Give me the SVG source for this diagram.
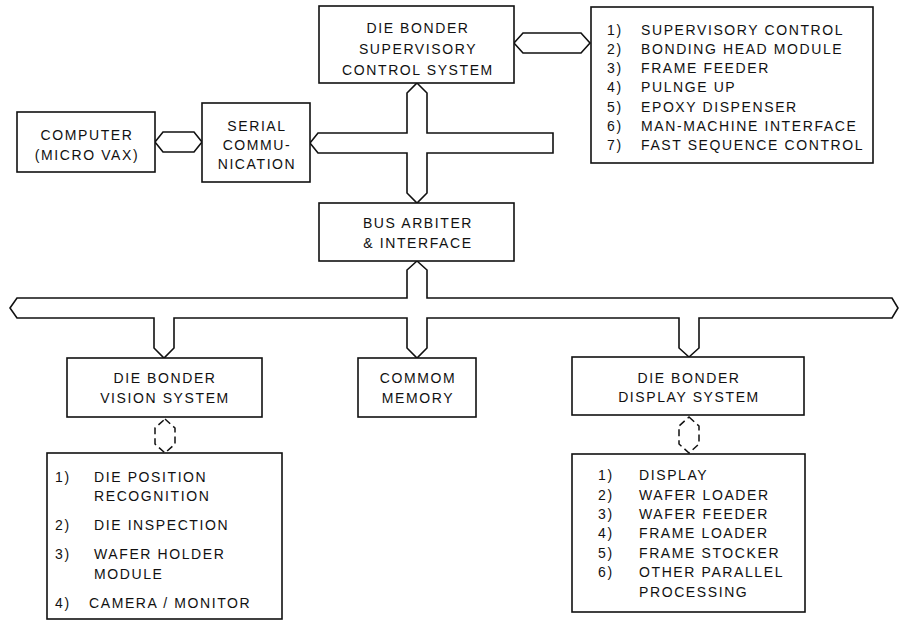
<svg xmlns="http://www.w3.org/2000/svg" width="900" height="621" viewBox="0 0 900 621">
<style>
.box{fill:#fff;stroke:#111;stroke-width:1.6}
.bus{fill:#fff;stroke:#111;stroke-width:1.6;stroke-linejoin:miter}
.dash{fill:none;stroke:#111;stroke-width:1.5;stroke-dasharray:7 4}
text{font-family:"Liberation Sans",Arial,sans-serif;font-size:14px;letter-spacing:1.6px;fill:#111}
.c{text-anchor:middle}
</style>
<rect width="900" height="621" fill="#fff"/>
<g id="connectors">
<path class="bus" d="M155,142 L163,132 L194,132 L202,142 L194,152 L163,152 Z"/>
<path class="bus" d="M514,43 L523,33 L581,33 L590,43 L581,53 L523,53 Z"/>
<path class="bus" d="M417,83 L427,93 L427,133 L553,133 L553,153 L427,153 L427,193 L417,203 L407,193 L407,153 L318,153 L310,143 L318,133 L407,133 L407,93 Z"/>
<path class="bus" d="M10,308 L17,298 L407,298 L407,270 L417,261 L427,270 L427,298 L892,298 L898,308 L892,318 L699,318 L699,348 L689,357 L679,348 L679,318 L427,318 L427,348 L417,358 L407,348 L407,318 L174,318 L174,348 L164,358 L154,348 L154,318 L17,318 Z"/>
<path class="dash" d="M165,419 L175,428 L175,444 L165,453 L155,444 L155,428 Z"/>
<path class="dash" d="M689,417 L699,426 L699,444 L689,453 L679,444 L679,426 Z"/>
</g>
<g id="supervisory">
<rect class="box" x="319" y="6" width="195" height="77"/>
<text class="c" x="418" y="33">DIE BONDER</text>
<text class="c" x="418" y="54">SUPERVISORY</text>
<text class="c" x="418" y="75">CONTROL SYSTEM</text>
</g>
<g id="supervisory-list">
<rect class="box" x="591" y="7" width="282" height="156"/>
<text x="607" y="35">1)</text><text x="641" y="35">SUPERVISORY CONTROL</text>
<text x="607" y="54">2)</text><text x="641" y="54">BONDING HEAD MODULE</text>
<text x="607" y="73">3)</text><text x="641" y="73">FRAME FEEDER</text>
<text x="607" y="92">4)</text><text x="641" y="92">PULNGE UP</text>
<text x="607" y="112">5)</text><text x="641" y="112">EPOXY DISPENSER</text>
<text x="607" y="131">6)</text><text x="641" y="131">MAN-MACHINE INTERFACE</text>
<text x="607" y="150">7)</text><text x="641" y="150">FAST SEQUENCE CONTROL</text>
</g>
<g id="computer">
<rect class="box" x="17" y="112" width="138" height="60"/>
<text class="c" x="87" y="140">COMPUTER</text>
<text class="c" x="87" y="160">(MICRO VAX)</text>
</g>
<g id="serial">
<rect class="box" x="202" y="103" width="108" height="79"/>
<text class="c" x="257" y="131">SERIAL</text>
<text class="c" x="257" y="150">COMMU-</text>
<text class="c" x="257" y="169">NICATION</text>
</g>
<g id="arbiter">
<rect class="box" x="319" y="203" width="195" height="58"/>
<text class="c" x="418" y="228">BUS ARBITER</text>
<text class="c" x="418" y="248">&amp; INTERFACE</text>
</g>
<g id="vision">
<rect class="box" x="67" y="358" width="195" height="59"/>
<text class="c" x="165" y="383">DIE BONDER</text>
<text class="c" x="165" y="403">VISION SYSTEM</text>
</g>
<g id="memory">
<rect class="box" x="358" y="358" width="118" height="59"/>
<text class="c" x="418" y="383">COMMOM</text>
<text class="c" x="418" y="403">MEMORY</text>
</g>
<g id="display">
<rect class="box" x="572" y="357" width="232" height="58"/>
<text class="c" x="689" y="383">DIE BONDER</text>
<text class="c" x="689" y="402">DISPLAY SYSTEM</text>
</g>
<g id="vision-list">
<rect class="box" x="47" y="453" width="235" height="166"/>
<text x="55" y="482">1)</text><text x="94" y="482">DIE POSITION</text>
<text x="94" y="501">RECOGNITION</text>
<text x="55" y="530">2)</text><text x="94" y="530">DIE INSPECTION</text>
<text x="55" y="559">3)</text><text x="94" y="559">WAFER HOLDER</text>
<text x="94" y="579">MODULE</text>
<text x="55" y="608">4)</text><text x="89" y="608">CAMERA / MONITOR</text>
</g>
<g id="display-list">
<rect class="box" x="572" y="454" width="233" height="158"/>
<text x="598" y="480">1)</text><text x="639" y="480">DISPLAY</text>
<text x="598" y="500">2)</text><text x="639" y="500">WAFER LOADER</text>
<text x="598" y="519">3)</text><text x="639" y="519">WAFER FEEDER</text>
<text x="598" y="538">4)</text><text x="639" y="538">FRAME LOADER</text>
<text x="598" y="558">5)</text><text x="639" y="558">FRAME STOCKER</text>
<text x="598" y="577">6)</text><text x="639" y="577">OTHER PARALLEL</text>
<text x="639" y="597">PROCESSING</text>
</g>
</svg>
